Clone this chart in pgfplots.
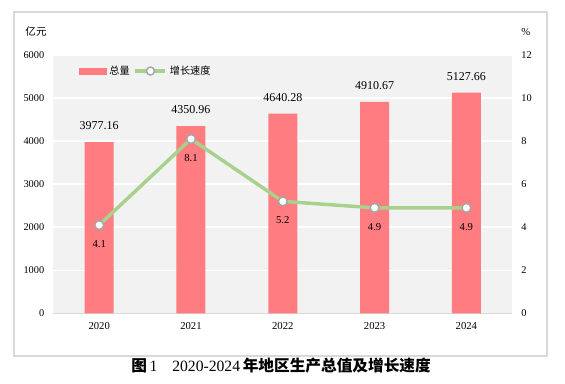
\documentclass[border=0pt]{standalone}
\usepackage{pgfplots}
\pgfplotsset{compat=1.18}
\usepackage{fontspec}
\setmainfont{Liberation Serif}
\newfontfamily\cjk{Noto Sans CJK SC}
\definecolor{barred}{HTML}{FF7C80}
\definecolor{lgreen}{HTML}{A9D18E}
\definecolor{bggray}{HTML}{F2F2F2}
\definecolor{lgray}{HTML}{D9D9D9}
\definecolor{mkgray}{HTML}{A6A6A6}
\begin{document}
\begin{tikzpicture}
\path[use as bounding box] (0pt,0pt) rectangle (423.75pt,288pt);
\draw[lgray, line width=0.8pt] (10.5pt,21pt) rectangle (410.25pt,279pt);
\begin{axis}[
  at={(39.975pt,53.025pt)}, anchor=south west, scale only axis,
  width=344.25pt, height=193.7pt,
  ymin=0, ymax=6000, ytick={0,1000,...,6000},
  xmin=-0.5, xmax=4.5, xtick={0,...,4},
  xticklabels={2020,2021,2022,2023,2024},
  axis background/.style={fill=bggray},
  axis x line*=bottom, axis y line*=left,
  x axis line style={lgray, line width=1pt},
  y axis line style={draw=none},
  major tick length=0pt,
  ymajorgrids, grid style={white, line width=1.1pt},
  scaled y ticks=false,
  /pgf/number format/1000 sep={},
  /pgf/number format/assume math mode=true,
  yticklabel style={font=\fontsize{7.75}{9}\selectfont, xshift=-3.3pt},
  xticklabel style={font=\fontsize{8}{9}\selectfont, yshift=-3.5pt},
  legend style={at={(0.056,0.938)}, anchor=west, draw=none, fill=none,
    font=\cjk\fontsize{7.6}{9}\selectfont, inner sep=0pt,
    /tikz/every even column/.append style={column sep=1pt}},
  legend columns=-1,
]
\addlegendimage{legend image code/.code={\fill[barred] (0pt,-2.25pt) rectangle (20.25pt,2.25pt);}}
\addlegendentry{总量}
\addlegendimage{legend image code/.code={\draw[lgreen, line width=2.6pt] (0pt,0pt) -- (22.5pt,0pt);
  \draw[mkgray, fill=white, line width=1.1pt] (11.25pt,0pt) circle (3pt);}}
\addlegendentry{增长速度}
\addplot[ybar, bar width=21.75pt, fill=barred, draw=none,
  point meta=explicit symbolic, nodes near coords,
  every node near coord/.append style={font=\fontsize{9}{10}\selectfont, yshift=5.5pt}]
  coordinates {(0,3977.16) [3977.16] (1,4350.96) [4350.96] (2,4640.28) [4640.28]
               (3,4910.67) [4910.67] (4,5127.66) [5127.66]};
\end{axis}
\begin{axis}[
  at={(39.975pt,53.025pt)}, anchor=south west, scale only axis,
  width=344.25pt, height=193.7pt,
  ymin=0, ymax=12, ytick={0,2,...,12},
  xmin=-0.5, xmax=4.5,
  axis x line=none, axis y line*=right,
  y axis line style={draw=none},
  major tick length=0pt,
  /pgf/number format/assume math mode=true,
  yticklabel style={font=\fontsize{7.75}{9}\selectfont, xshift=3.3pt},
]
\addplot[lgreen, line width=2.6pt, mark=*, mark size=3.3pt,
  mark options={fill=white, draw=mkgray, line width=1.1pt},
  nodes near coords, nodes near coords align={below},
  every node near coord/.append style={font=\fontsize{8}{9}\selectfont, yshift=-7.5pt, text=black}]
  coordinates {(0,4.1) (1,8.1) (2,5.2) (3,4.9) (4,4.9)};
\end{axis}
\node[font=\cjk\fontsize{7.9}{9}\selectfont] at (27pt,264pt) {亿元};
\node[font=\fontsize{8}{9}\selectfont] at (394.3pt,264pt) {\%};
\node[anchor=west, inner sep=0pt, font=\fontsize{11.75}{13}\selectfont] at (98.25pt,13.5pt)
  {{\cjk\bfseries 图}\,1\hspace{0.95em}2020-2024\,{\cjk\bfseries 年地区生产总值及增长速度}};
\end{tikzpicture}
\end{document}
